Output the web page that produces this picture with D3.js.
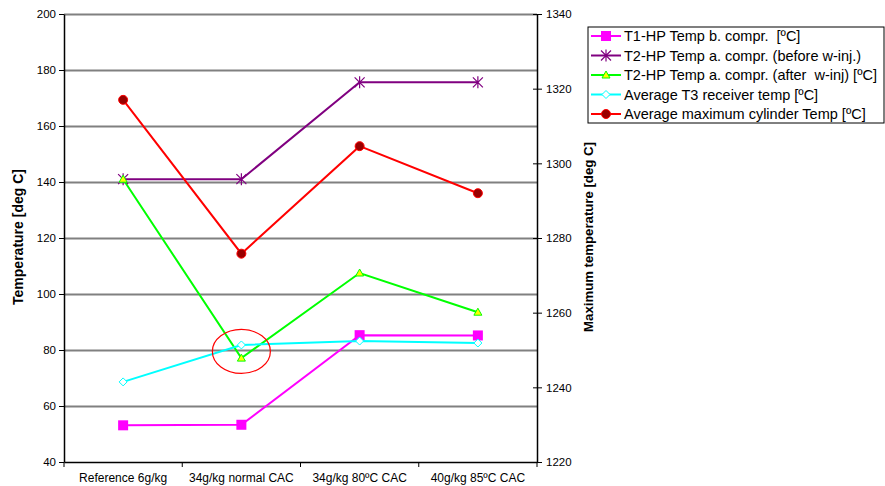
<!DOCTYPE html>
<html>
<head>
<meta charset="utf-8">
<script src="https://cdn.jsdelivr.net/npm/d3@7.9.0/dist/d3.min.js"></script>
<style>
  body { margin: 0; background: #fff; }
  svg { font-family: "Liberation Sans", Arial, sans-serif; }
  .leg text { white-space: pre; }
</style>
</head>
<body>
<svg id="chart" width="885" height="486"></svg>
<script>
/* data */
const categories = ['Reference 6g/kg', '34g/kg normal CAC', '34g/kg 80ºC CAC', '40g/kg 85ºC CAC'];
const t1Before   = [53.1, 53.3, 85.3, 85.2];
const t2Before   = [141.0, 141.0, 175.6, 175.6];
const t2After    = [141.0, 77.1, 107.5, 93.5];
const t3Receiver = [68.6, 81.8, 83.2, 82.5];
const cylMax     = [1317.0, 1275.8, 1304.6, 1292.0];
const leftTicks  = [40, 60, 80, 100, 120, 140, 160, 180, 200];
const rightTicks = [1220, 1240, 1260, 1280, 1300, 1320, 1340];

const series = [
  { name: 'T1-HP Temp b. compr.  [ºC]', values: t1Before, color: '#ff00ff', marker: 'square', axis: 'left' },
  { name: 'T2-HP Temp a. compr. (before w-inj.)', values: t2Before, color: '#800080', marker: 'star', axis: 'left' },
  { name: 'T2-HP Temp a. compr. (after  w-inj) [ºC]', values: t2After, color: '#00ff00', marker: 'triangle', axis: 'left' },
  { name: 'Average T3 receiver temp [ºC]', values: t3Receiver, color: '#00ffff', marker: 'diamond', axis: 'left' },
  { name: 'Average maximum cylinder Temp [ºC]', values: cylMax, color: '#ff0000', marker: 'circle', axis: 'right' }
];

const svg = d3.select('#chart');
const plot = { left: 64, right: 537, top: 14, bottom: 462 };
const FONT = '"Liberation Sans", Arial, sans-serif';

const x = d3.scaleBand().domain(categories).range([plot.left, plot.right]);
const yL = d3.scaleLinear().domain([40, 200]).range([plot.bottom, plot.top]);
const yR = d3.scaleLinear().domain([1220, 1340]).range([plot.bottom, plot.top]);
const cx = d => x(d) + x.bandwidth() / 2;

/* gridlines */
svg.append('g')
  .attr('transform', `translate(${plot.left},0)`)
  .call(d3.axisLeft(yL).tickValues(leftTicks.slice(1)).tickSize(-(plot.right - plot.left)).tickFormat(''))
  .call(g => g.select('.domain').remove())
  .selectAll('line').attr('stroke', '#808080').attr('stroke-width', 2);

/* left axis */
const gl = svg.append('g')
  .attr('transform', `translate(${plot.left},0)`)
  .call(d3.axisLeft(yL).tickValues(leftTicks).tickSize(5).tickPadding(3).tickSizeOuter(0));
gl.selectAll('text').attr('font-size', 11.5).attr('fill', '#000').attr('font-family', FONT);

/* right axis */
const gr = svg.append('g')
  .attr('transform', `translate(${plot.right},0)`)
  .call(d3.axisRight(yR).tickValues(rightTicks).tickFormat(d3.format('d')).tickSize(5).tickPadding(4).tickSizeOuter(0));
gr.selectAll('.tick line').attr('x1', -4);
gr.selectAll('text').attr('font-size', 11.5).attr('fill', '#000').attr('font-family', FONT);

/* bottom axis */
const gb = svg.append('g')
  .attr('transform', `translate(0,${plot.bottom})`)
  .call(d3.axisBottom(x).tickSize(0).tickPadding(11).tickSizeOuter(0));
gb.selectAll('text').attr('font-size', 12).attr('fill', '#000').attr('font-family', FONT);
gb.selectAll('.bt').data(d3.range(categories.length + 1)).join('line')
  .attr('x1', i => plot.left + i * x.step()).attr('x2', i => plot.left + i * x.step())
  .attr('y1', 0).attr('y2', 5).attr('stroke', '#000');
svg.selectAll('.domain').attr('stroke', '#000').attr('stroke-width', 1.5);

/* axis titles */
svg.append('text')
  .attr('transform', `translate(23,237) rotate(-90)`)
  .attr('text-anchor', 'middle').attr('font-size', 14).attr('font-weight', 'bold')
  .text('Temperature [deg C]');
svg.append('text')
  .attr('transform', `translate(593,237) rotate(-90)`)
  .attr('text-anchor', 'middle').attr('font-size', 13.2).attr('font-weight', 'bold')
  .text('Maximum temperature [deg C]');

/* marker drawing */
function drawMarker(g, type, color) {
  if (type === 'square') {
    g.append('rect').attr('x', -5).attr('y', -5).attr('width', 10).attr('height', 10).attr('fill', color);
  } else if (type === 'star') {
    const p = 'M-5,-5L5,5M-5,5L5,-5M0,-6L0,6';
    g.append('path').attr('d', p).attr('stroke', color).attr('stroke-width', 1.2).attr('fill', 'none');
  } else if (type === 'triangle') {
    g.append('path').attr('d', 'M0,-4L4,3L-4,3Z').attr('fill', '#ffff00').attr('stroke', color).attr('stroke-width', 1);
  } else if (type === 'diamond') {
    g.append('path').attr('d', 'M0,-4L4,0L0,4L-4,0Z').attr('fill', '#fff').attr('stroke', color).attr('stroke-width', 1);
  } else if (type === 'circle') {
    g.append('circle').attr('r', 4.5).attr('fill', '#990000').attr('stroke', color).attr('stroke-width', 1);
  }
}

/* lines + markers */
series.forEach(s => {
  const y = s.axis === 'left' ? yL : yR;
  const line = d3.line().x((d, i) => cx(categories[i])).y(d => y(d));
  svg.append('path').datum(s.values)
    .attr('d', line).attr('fill', 'none').attr('stroke', s.color).attr('stroke-width', 2);
});
series.forEach(s => {
  const y = s.axis === 'left' ? yL : yR;
  s.values.forEach((v, i) => {
    const g = svg.append('g').attr('transform', `translate(${cx(categories[i])},${y(v)})`);
    drawMarker(g, s.marker, s.color);
  });
});

/* annotation ellipse around the dip */
svg.append('ellipse')
  .attr('cx', cx(categories[1])).attr('cy', yL(79.5))
  .attr('rx', 29).attr('ry', 22)
  .attr('fill', 'none').attr('stroke', '#ff0000').attr('stroke-width', 1.2);

/* legend */
const lg = svg.append('g').attr('class', 'leg').attr('transform', 'translate(588,27)');
lg.append('rect').attr('x', 0).attr('y', 0).attr('width', 296).attr('height', 96)
  .attr('fill', '#fff').attr('stroke', '#000').attr('stroke-width', 1);
series.forEach((s, i) => {
  const yy = 9 + i * 19.5;
  lg.append('line').attr('x1', 3).attr('x2', 33).attr('y1', yy).attr('y2', yy)
    .attr('stroke', s.color).attr('stroke-width', 2);
  drawMarker(lg.append('g').attr('transform', `translate(18,${yy})`), s.marker, s.color);
  lg.append('text').attr('x', 36).attr('y', yy + 5).attr('font-size', 14.5).text(s.name);
});
</script>
</body>
</html>
